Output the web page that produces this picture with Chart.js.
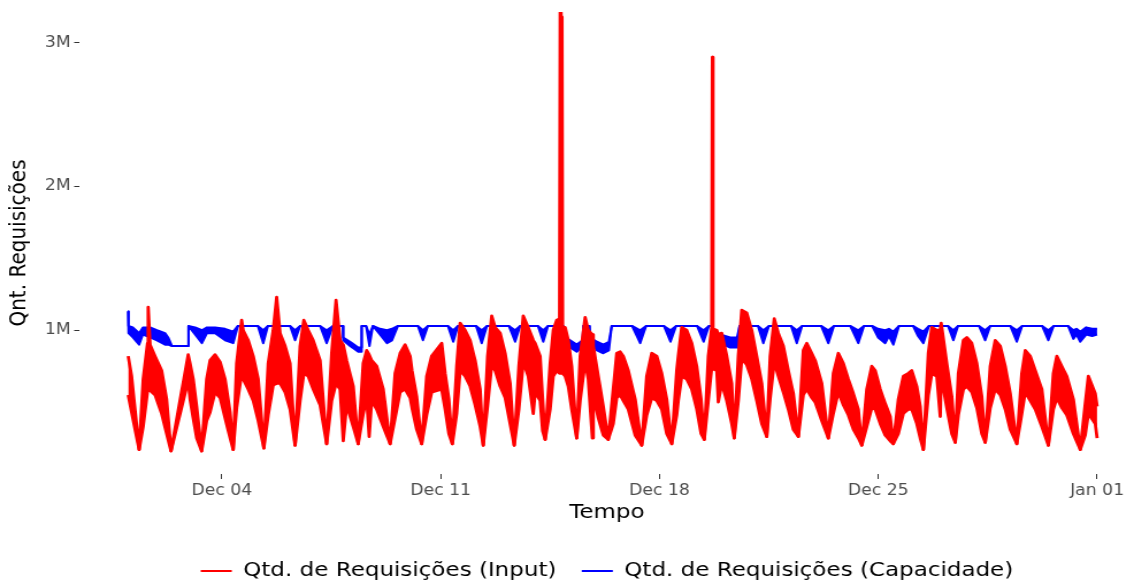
<!DOCTYPE html>
<html>
<head>
<meta charset="utf-8">
<script src="https://cdn.jsdelivr.net/npm/chart.js@4.4.1/dist/chart.umd.min.js"></script>
<style>
    html, body { margin: 0; padding: 0; background: #ffffff; overflow: hidden; }
    #requests { display: block; }
</style>
</head>
<body>
<!-- drawn at 986 wide and widened to 1134 by css, like the exported plot -->
<canvas id="requests" width="986" height="585" style="width:1134px;height:585px"></canvas>
<script>
// time is in days since Dec 01 00:00, requests in millions

// input: upper and lower edge of the noisy band
let inputDays = [
    0.00, 0.11, 0.35, 0.48, 0.62, 0.64, 0.70, 0.86, 1.07, 1.23,
    1.37, 1.92, 1.98, 2.08, 2.19, 2.35, 2.51, 2.62, 2.78, 2.94,
    3.10, 3.26, 3.36, 3.47, 3.63, 3.68, 3.84, 4.00, 4.16, 4.34,
    4.48, 4.64, 4.75, 4.86, 5.02, 5.18, 5.34, 5.50, 5.62, 5.76,
    5.92, 6.14, 6.35, 6.51, 6.65, 6.78, 6.88, 6.99, 7.20, 7.36,
    7.52, 7.63, 7.71, 7.79, 7.95, 8.16, 8.38, 8.54, 8.70, 8.86,
    9.02, 9.08, 9.23, 9.39, 9.55, 9.71, 10.03, 10.14, 10.26, 10.37,
    10.51, 10.62, 10.78, 10.94, 11.10, 11.26, 11.36, 11.50, 11.63, 11.74,
    11.90, 12.06, 12.22, 12.35, 12.50, 12.64, 12.80, 12.96, 13.02, 13.18,
    13.26, 13.34, 13.50, 13.60, 13.71, 13.80, 13.82, 13.85, 13.88, 13.90,
    13.98, 14.08, 14.19, 14.35, 14.46, 14.62, 14.72, 14.85, 14.88, 15.04,
    15.20, 15.36, 15.52, 15.63, 15.74, 15.84, 16.00, 16.22, 16.43, 16.59,
    16.75, 16.91, 17.07, 17.23, 17.39, 17.55, 17.60, 17.71, 17.87, 18.03,
    18.19, 18.33, 18.43, 18.56, 18.67, 18.69, 18.71, 18.83, 18.88, 18.99,
    19.15, 19.31, 19.39, 19.52, 19.63, 19.79, 19.95, 20.11, 20.27, 20.43,
    20.54, 20.67, 20.80, 20.96, 21.12, 21.28, 21.44, 21.60, 21.71, 21.87,
    21.98, 22.19, 22.40, 22.56, 22.72, 22.88, 23.04, 23.20, 23.36, 23.47,
    23.63, 23.79, 23.90, 24.06, 24.22, 24.38, 24.48, 24.64, 24.80, 24.96,
    25.07, 25.23, 25.34, 25.44, 25.60, 25.71, 25.87, 25.98, 26.01, 26.19,
    26.35, 26.46, 26.56, 26.72, 26.83, 26.99, 27.15, 27.31, 27.42, 27.58,
    27.74, 27.90, 28.06, 28.22, 28.43, 28.59, 28.70, 28.86, 29.02, 29.23,
    29.44, 29.60, 29.71, 29.87, 30.03, 30.24, 30.46, 30.62, 30.72, 30.94, 31.00
];
let inputHigh = [
    0.82, 0.68, 0.17, 0.66, 0.91, 1.16, 0.90, 0.82, 0.72, 0.52,
    0.16, 0.83, 0.77, 0.66, 0.47, 0.16, 0.66, 0.79, 0.83, 0.78,
    0.66, 0.43, 0.17, 0.77, 1.07, 1.00, 0.93, 0.82, 0.66, 0.18,
    0.77, 1.00, 1.23, 0.98, 0.89, 0.77, 0.20, 0.89, 1.07, 1.00,
    0.93, 0.79, 0.21, 0.84, 1.21, 0.93, 0.90, 0.79, 0.61, 0.21,
    0.77, 0.86, 0.83, 0.79, 0.75, 0.59, 0.21, 0.70, 0.84, 0.90,
    0.82, 0.72, 0.54, 0.21, 0.68, 0.82, 0.91, 0.70, 0.52, 0.21,
    0.75, 1.05, 1.00, 0.93, 0.79, 0.59, 0.20, 0.82, 1.10, 1.02,
    0.98, 0.84, 0.63, 0.20, 0.75, 1.10, 1.02, 0.93, 0.91, 0.82,
    0.52, 0.24, 0.77, 1.00, 1.07, 1.08, 3.21, 1.90, 3.18, 1.03,
    1.02, 0.93, 0.75, 0.25, 0.82, 1.09, 1.00, 0.97, 0.89, 0.68,
    0.47, 0.24, 0.59, 0.84, 0.85, 0.82, 0.72, 0.52, 0.20, 0.68,
    0.84, 0.82, 0.70, 0.52, 0.21, 0.72, 0.82, 1.02, 1.00, 0.91,
    0.75, 0.52, 0.24, 0.82, 1.02, 2.90, 1.01, 1.00, 0.97, 0.98,
    0.82, 0.63, 0.25, 0.82, 1.14, 1.12, 1.00, 0.82, 0.63, 0.26,
    0.82, 1.08, 0.98, 0.89, 0.72, 0.56, 0.26, 0.86, 0.91, 0.84,
    0.79, 0.63, 0.25, 0.70, 0.84, 0.77, 0.66, 0.56, 0.45, 0.20,
    0.59, 0.75, 0.72, 0.59, 0.49, 0.40, 0.21, 0.52, 0.68, 0.70,
    0.72, 0.61, 0.47, 0.17, 0.84, 1.02, 1.00, 1.00, 1.05, 0.77,
    0.54, 0.22, 0.70, 0.93, 0.95, 0.91, 0.77, 0.54, 0.22, 0.75,
    0.93, 0.89, 0.75, 0.56, 0.21, 0.70, 0.86, 0.82, 0.72, 0.59,
    0.20, 0.70, 0.82, 0.75, 0.68, 0.52, 0.17, 0.49, 0.68, 0.56, 0.47
];
let inputLow = [
    0.55, 0.43, 0.17, 0.33, 0.58, 0.58, 0.58, 0.55, 0.42, 0.28,
    0.16, 0.65, 0.52, 0.39, 0.25, 0.16, 0.37, 0.43, 0.57, 0.53,
    0.39, 0.25, 0.17, 0.46, 0.70, 0.66, 0.59, 0.51, 0.37, 0.18,
    0.41, 0.62, 0.63, 0.63, 0.57, 0.45, 0.20, 0.51, 0.70, 0.68,
    0.59, 0.48, 0.21, 0.51, 0.63, 0.59, 0.23, 0.48, 0.33, 0.21,
    0.42, 0.53, 0.26, 0.51, 0.45, 0.33, 0.21, 0.39, 0.57, 0.59,
    0.53, 0.46, 0.31, 0.21, 0.41, 0.57, 0.59, 0.45, 0.28, 0.21,
    0.42, 0.72, 0.68, 0.61, 0.48, 0.33, 0.20, 0.48, 0.76, 0.72,
    0.61, 0.53, 0.35, 0.20, 0.45, 0.78, 0.68, 0.42, 0.57, 0.51,
    0.30, 0.24, 0.45, 0.68, 0.72, 0.70, 0.70, 0.70, 0.70, 0.70,
    0.68, 0.61, 0.45, 0.25, 0.51, 0.78, 0.66, 0.25, 0.55, 0.39,
    0.27, 0.24, 0.35, 0.53, 0.55, 0.51, 0.45, 0.27, 0.20, 0.41,
    0.53, 0.51, 0.45, 0.28, 0.21, 0.41, 0.51, 0.68, 0.66, 0.59,
    0.45, 0.28, 0.24, 0.51, 0.74, 0.74, 0.73, 0.72, 0.50, 0.63,
    0.51, 0.35, 0.25, 0.51, 0.80, 0.76, 0.66, 0.51, 0.35, 0.26,
    0.53, 0.78, 0.68, 0.57, 0.45, 0.31, 0.26, 0.55, 0.59, 0.53,
    0.50, 0.37, 0.25, 0.42, 0.57, 0.48, 0.41, 0.31, 0.25, 0.20,
    0.33, 0.46, 0.45, 0.35, 0.27, 0.23, 0.21, 0.28, 0.42, 0.45,
    0.45, 0.35, 0.25, 0.17, 0.55, 0.70, 0.68, 0.40, 0.68, 0.46,
    0.28, 0.22, 0.41, 0.59, 0.61, 0.57, 0.46, 0.28, 0.22, 0.46,
    0.59, 0.55, 0.45, 0.31, 0.21, 0.42, 0.57, 0.51, 0.45, 0.33,
    0.20, 0.45, 0.53, 0.46, 0.41, 0.28, 0.17, 0.27, 0.42, 0.35, 0.25
];

// capacity: flat ceiling with a dip every day
let capDays = [
    0.00, 0.01, 0.15, 0.35, 0.47, 0.70, 0.92, 1.18, 1.28, 1.40,
    1.92, 1.93, 2.14, 2.36, 2.52, 2.78, 3.10, 3.36, 3.51, 4.15,
    4.32, 4.47, 5.18, 5.34, 5.50, 6.14, 6.35, 6.55, 6.87, 6.88,
    7.10, 7.36, 7.46, 7.47, 7.61, 7.72, 7.83, 8.06, 8.28, 8.44,
    8.63, 9.27, 9.43, 9.59, 10.23, 10.40, 10.55, 11.13, 11.31, 11.48,
    12.18, 12.38, 12.54, 13.11, 13.28, 13.43, 13.90, 13.92, 14.14, 14.35,
    14.54, 14.56, 14.76, 14.78, 15.00, 15.20, 15.38, 15.47, 16.12, 16.38,
    16.57, 17.14, 17.35, 17.53, 18.20, 18.41, 18.58, 18.70, 18.71, 18.94,
    19.26, 19.48, 19.56, 20.15, 20.32, 20.50, 21.21, 21.39, 21.56, 22.17,
    22.40, 22.58, 23.10, 23.36, 23.54, 23.80, 23.99, 24.22, 24.34, 24.48,
    24.66, 25.11, 25.27, 25.44, 25.62, 26.23, 26.40, 26.55, 27.22, 27.42,
    27.58, 28.22, 28.43, 28.60, 29.24, 29.44, 29.61, 30.07, 30.24, 30.34,
    30.46, 30.65, 30.84, 31.00
];
let capHigh = [
    1.13, 1.03, 1.02, 0.98, 1.02, 1.02, 1.00, 0.98, 0.95, 0.89,
    0.89, 1.03, 1.02, 1.00, 1.02, 1.02, 1.01, 0.99, 1.03, 1.03,
    1.00, 1.03, 1.03, 1.00, 1.03, 1.03, 1.00, 1.03, 1.03, 0.95,
    0.92, 0.88, 0.88, 1.03, 1.03, 0.97, 1.03, 1.01, 1.00, 1.01,
    1.03, 1.03, 1.00, 1.03, 1.03, 1.00, 1.03, 1.03, 1.00, 1.03,
    1.03, 1.00, 1.03, 1.03, 1.00, 1.03, 1.03, 0.96, 0.93, 0.90,
    0.93, 1.03, 1.03, 0.95, 0.92, 0.90, 0.92, 1.03, 1.03, 1.00,
    1.03, 1.03, 1.00, 1.03, 1.03, 1.00, 1.03, 1.03, 0.98, 0.97,
    0.95, 0.95, 1.03, 1.03, 1.00, 1.03, 1.03, 1.00, 1.03, 1.03,
    1.00, 1.03, 1.03, 1.00, 1.03, 1.03, 1.01, 1.00, 1.01, 0.99,
    1.03, 1.03, 1.01, 0.99, 1.03, 1.03, 1.00, 1.03, 1.03, 1.00,
    1.03, 1.03, 1.00, 1.03, 1.03, 1.00, 1.03, 1.03, 1.00, 1.01,
    0.99, 1.02, 1.01, 1.01
];
let capLow = [
    1.13, 0.98, 0.95, 0.90, 0.97, 0.95, 0.93, 0.90, 0.90, 0.89,
    0.89, 1.03, 0.97, 0.91, 0.98, 0.98, 0.93, 0.91, 1.03, 1.03,
    0.91, 1.03, 1.03, 0.93, 1.03, 1.03, 0.91, 1.03, 1.03, 0.93,
    0.89, 0.85, 0.85, 1.03, 1.03, 0.89, 1.03, 0.97, 0.91, 0.93,
    1.03, 1.03, 0.93, 1.03, 1.03, 0.92, 1.03, 1.03, 0.91, 1.03,
    1.03, 0.92, 1.03, 1.03, 0.92, 1.03, 1.03, 0.93, 0.88, 0.85,
    0.89, 1.03, 1.03, 0.92, 0.86, 0.84, 0.86, 1.03, 1.03, 0.91,
    1.03, 1.03, 0.92, 1.03, 1.03, 0.92, 1.03, 1.03, 0.95, 0.91,
    0.88, 0.88, 1.03, 1.03, 0.91, 1.03, 1.03, 0.91, 1.03, 1.03,
    0.91, 1.03, 1.03, 0.91, 1.03, 1.03, 0.95, 0.91, 0.96, 0.90,
    1.03, 1.03, 0.96, 0.91, 1.03, 1.03, 0.93, 1.03, 1.03, 0.93,
    1.03, 1.03, 0.92, 1.03, 1.03, 0.93, 1.03, 1.03, 0.94, 0.97,
    0.92, 0.97, 0.96, 0.97
];

let dayTicks = [3, 10, 17, 24, 31];
let dayLabels = ['Dec 04', 'Dec 11', 'Dec 18', 'Dec 25', 'Jan 01'];
let reqTicks = [1, 2, 3];
let reqLabels = ['1M', '2M', '3M'];

let inputColor = '#ff0000';
let capColor = '#0000ff';

Chart.defaults.font.family = "'DejaVu Sans', sans-serif";
Chart.defaults.color = '#000000';

let toPoints = function (xs, ys) {
    return xs.map((x, i) => ({ x: x, y: ys[i] }));
};

let band = function (label, xs, ys, color, width, fill) {
    return {
        label: label,
        data: toPoints(xs, ys),
        borderColor: color,
        backgroundColor: color,
        borderWidth: width,
        borderJoinStyle: 'round',
        pointRadius: 0,
        pointHoverRadius: 0,
        tension: 0,
        fill: fill
    };
};

// first dataset ends up on top, so input covers capacity
let datasets = [
    band('Qtd. de Requisições (Input)', inputDays, inputHigh, inputColor, 2.8, false),
    band('', inputDays, inputLow, inputColor, 2.8, '-1'),
    band('Qtd. de Requisições (Capacidade)', capDays, capHigh, capColor, 2, false),
    band('', capDays, capLow, capColor, 2, '-1')
];

let tickMarks = { drawOnChartArea: false, drawTicks: true, tickLength: 5, color: '#333333', lineWidth: 1 };

new Chart(document.getElementById('requests'), {
    type: 'line',
    data: { datasets: datasets },
    options: {
        responsive: false,
        animation: false,
        devicePixelRatio: 1,
        layout: { padding: { left: 0, right: 0, top: 0, bottom: -6 } },
        plugins: {
            tooltip: { enabled: false },
            legend: {
                position: 'bottom',
                fullSize: false,
                labels: {
                    usePointStyle: true,
                    pointStyleWidth: 27,
                    padding: 22,
                    color: '#000000',
                    font: { size: 20 },
                    generateLabels: function (chart) {
                        return [0, 2].map(i => {
                            let ds = chart.data.datasets[i];
                            return {
                                text: ds.label,
                                datasetIndex: i,
                                strokeStyle: ds.borderColor,
                                fillStyle: ds.borderColor,
                                lineWidth: 2,
                                pointStyle: 'line',
                                hidden: false
                            };
                        });
                    }
                }
            }
        },
        scales: {
            x: {
                type: 'linear',
                min: -1.544,
                max: 32.18,
                afterBuildTicks: function (axis) {
                    axis.ticks = dayTicks.map(v => ({ value: v }));
                },
                ticks: {
                    autoSkip: false,
                    maxRotation: 0,
                    padding: 3,
                    color: '#4d4d4d',
                    font: { size: 15 },
                    callback: (v, i) => dayLabels[i]
                },
                grid: tickMarks,
                border: { display: false },
                title: {
                    display: true,
                    text: 'Tempo',
                    color: '#000000',
                    font: { size: 20, lineHeight: 1 },
                    padding: { top: 0, bottom: 16 }
                }
            },
            y: {
                type: 'linear',
                min: 0,
                max: 3.214,
                afterBuildTicks: function (axis) {
                    axis.ticks = reqTicks.map(v => ({ value: v }));
                },
                ticks: {
                    padding: 3,
                    color: '#4d4d4d',
                    font: { size: 15 },
                    callback: (v, i) => reqLabels[i]
                },
                grid: tickMarks,
                border: { display: false },
                title: {
                    display: true,
                    text: 'Qnt. Requisições',
                    color: '#000000',
                    font: { size: 20 },
                    padding: { top: 5, bottom: 7 }
                }
            }
        }
    }
});
</script>
</body>
</html>
